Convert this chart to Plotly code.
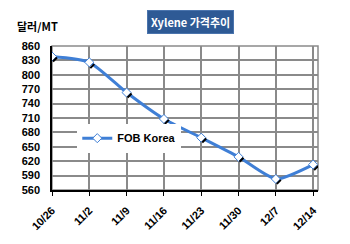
import plotly.graph_objects as go

categories = ["10/26", "11/2", "11/9", "11/16", "11/23", "11/30", "12/7", "12/14"]
fob_korea = [838, 826, 763, 708, 669, 629, 583, 613]
shadow_vals = [832, 818, 757, 702, 663, 623, 577, 606]
y_ticks = [560, 590, 620, 650, 680, 710, 740, 770, 800, 830, 860]

idx = list(range(len(categories)))
fig = go.Figure()

fig.add_trace(go.Scatter(
    x=idx, y=shadow_vals, mode="markers", xaxis="x2",
    marker=dict(symbol="line-ne", size=4, color="black", line=dict(color="black", width=2)),
    showlegend=False, hoverinfo="skip"))

fig.add_trace(go.Scatter(
    x=idx, y=fob_korea, mode="lines+markers", name="<b>FOB Korea</b>",
    line=dict(color="#3F7FD6", width=3, shape="spline", smoothing=0.6),
    marker=dict(symbol="diamond", size=7, color="white", line=dict(color="#3F7FD6", width=1))))

fig.update_layout(
    width=350, height=244,
    margin=dict(l=52, r=32, t=46, b=43),
    paper_bgcolor="white", plot_bgcolor="white",
    font=dict(family="Arial"),
    showlegend=True,
    legend=dict(x=0.095, y=0.36, xanchor="left", yanchor="middle", bgcolor="white",
                font=dict(family="Arial", size=11, color="black"),
                itemwidth=30, tracegroupgap=0, borderwidth=0),
    xaxis=dict(range=[0, 7.13], tickmode="array", tickvals=idx,
               ticktext=[f"<b>{c}</b>" for c in categories],
               tickangle=-45, showgrid=True, gridcolor="#8a8a8a", gridwidth=1.5,
               showline=True, linecolor="black", linewidth=1.5, mirror=False,
               ticks="outside", ticklen=4, tickcolor="black", ticklabelstandoff=4,
               tickfont=dict(family="Arial", size=11, color="black"), zeroline=False),
    xaxis2=dict(range=[-0.08, 7.05], overlaying="x", visible=False),
    yaxis=dict(range=[560, 860], tickmode="array", tickvals=y_ticks,
               ticktext=[f"<b>{v}</b>" for v in y_ticks],
               showgrid=True, gridcolor="#8a8a8a", gridwidth=1.5,
               showline=True, linecolor="black", linewidth=1.5,
               ticks="", ticklabelstandoff=8,
               tickfont=dict(family="Arial", size=11, color="black"),
               zeroline=False),
    shapes=[
        dict(type="rect", xref="paper", yref="paper", x0=0, x1=1, y0=0, y1=1,
             line=dict(color="#8a8a8a", width=1.5), layer="below"),
    ],
    annotations=[
        dict(text="<b>Xylene 가격추이</b>", xref="paper", yref="paper", x=0.52, y=1.17,
             xanchor="center", yanchor="middle", showarrow=False,
             font=dict(family="Noto Sans CJK KR", size=11, color="white"),
             bgcolor="#2E5A95", bordercolor="#4A74AD", borderwidth=1, borderpad=3),
        dict(text="<b>달러/MT</b>", xref="paper", yref="paper", x=-0.14, y=1.14,
             xanchor="left", yanchor="middle", showarrow=False,
             font=dict(family="Noto Sans CJK KR", size=11, color="black")),
    ],
)
fig.write_html("out.html")
